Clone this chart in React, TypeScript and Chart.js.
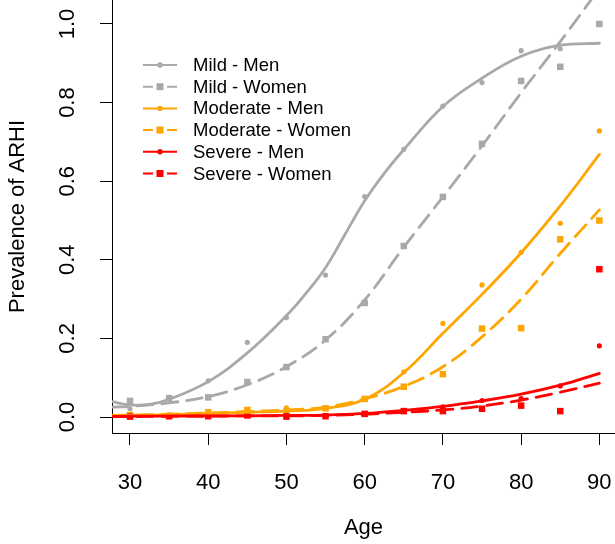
import React, { useEffect, useRef } from "react";
import { Chart, registerables } from "chart.js";

Chart.register(...registerables);

// Observed prevalence by age group
const ages = [30, 35, 40, 45, 50, 55, 60, 65, 70, 75, 80, 85, 90];
const mildMen = [0.021, 0.045, 0.092, 0.19, 0.253, 0.361, 0.561, 0.681, 0.791, 0.851, 0.932, 0.937, null];
const mildWomen = [0.041, 0.048, 0.05, 0.089, 0.127, 0.198, 0.29, 0.435, 0.56, 0.695, 0.855, 0.891, 1.0];
const moderateMen = [0.003, 0.005, 0.008, 0.012, 0.023, 0.022, 0.045, 0.115, 0.238, 0.336, 0.419, 0.493, 0.728];
const moderateWomen = [0.005, 0.003, 0.012, 0.018, 0.015, 0.022, 0.046, 0.077, 0.109, 0.225, 0.226, 0.452, 0.5];
const severeMen = [0.002, 0.001, 0.003, 0.004, 0.003, 0.002, 0.008, 0.016, 0.026, 0.042, 0.047, 0.079, 0.181];
const severeWomen = [0.001, 0.002, 0.002, 0.004, 0.001, 0.002, 0.008, 0.015, 0.015, 0.021, 0.029, 0.015, 0.376];

// Fitted curves
const fitAgesMild = [27.7, 30, 32.5, 35, 40, 45, 50, 52.5, 55, 57.5, 60, 62.5, 65, 70, 75, 80, 85, 90];
const fitMildMen = [0.039, 0.031, 0.032, 0.045, 0.09, 0.163, 0.258, 0.315, 0.38, 0.465, 0.55, 0.62, 0.68, 0.79, 0.862, 0.918, 0.946, 0.951];
const fitAges = [27.7, 30, 35, 40, 45, 50, 55, 60, 65, 70, 75, 80, 85, 90];
const fitMildWomen = [0.025, 0.027, 0.036, 0.052, 0.082, 0.128, 0.196, 0.298, 0.432, 0.56, 0.69, 0.825, 0.955, 1.09];
const fitModerateMen = [0.003, 0.004, 0.006, 0.009, 0.012, 0.015, 0.022, 0.045, 0.113, 0.213, 0.312, 0.418, 0.537, 0.668];
const fitModerateWomen = [0.004, 0.005, 0.007, 0.01, 0.014, 0.018, 0.025, 0.046, 0.078, 0.128, 0.204, 0.3, 0.416, 0.527];
const fitSevereMen = [0.001, 0.002, 0.002, 0.003, 0.003, 0.004, 0.005, 0.009, 0.017, 0.027, 0.041, 0.058, 0.081, 0.111];
const fitSevereWomen = [0.001, 0.001, 0.002, 0.002, 0.003, 0.003, 0.004, 0.007, 0.012, 0.018, 0.028, 0.043, 0.063, 0.086];

const xTicks = [30, 40, 50, 60, 70, 80, 90];
const yTicks = [0, 0.2, 0.4, 0.6, 0.8, 1.0];

const GRAY = "#A9A9A9";
const ORANGE = "#FFA500";
const RED = "#FF0000";
const FONT = "'Liberation Sans', Arial, Helvetica, sans-serif";
const DASH = [16, 9];

type Series = {
  label: string;
  color: string;
  dashed: boolean;
  points: (number | null)[];
  fitX: number[];
  fitY: number[];
};

// Listed top-most first (Chart.js paints the first dataset last)
const series: Series[] = [
  { label: "Severe - Men", color: RED, dashed: false, points: severeMen, fitX: fitAges, fitY: fitSevereMen },
  { label: "Severe - Women", color: RED, dashed: true, points: severeWomen, fitX: fitAges, fitY: fitSevereWomen },
  { label: "Moderate - Men", color: ORANGE, dashed: false, points: moderateMen, fitX: fitAges, fitY: fitModerateMen },
  { label: "Moderate - Women", color: ORANGE, dashed: true, points: moderateWomen, fitX: fitAges, fitY: fitModerateWomen },
  { label: "Mild - Men", color: GRAY, dashed: false, points: mildMen, fitX: fitAgesMild, fitY: fitMildMen },
  { label: "Mild - Women", color: GRAY, dashed: true, points: mildWomen, fitX: fitAges, fitY: fitMildWomen },
];

const legendOrder = ["Mild - Men", "Mild - Women", "Moderate - Men", "Moderate - Women", "Severe - Men", "Severe - Women"];

const legendPlugin = {
  id: "arhiLegend",
  afterDatasetsDraw(chart: any) {
    const ctx = chart.ctx as CanvasRenderingContext2D;
    const x0 = 143;
    const x1 = 177;
    const xm = 160;
    const textX = 193;
    const rowY0 = 65;
    const rowH = 21.7;
    ctx.save();
    legendOrder.forEach((name, i) => {
      const s = series.find((d) => d.label === name)!;
      const y = rowY0 + i * rowH;
      ctx.strokeStyle = s.color;
      ctx.fillStyle = s.color;
      ctx.lineWidth = 2;
      ctx.lineCap = "butt";
      ctx.beginPath();
      if (s.dashed) {
        ctx.moveTo(x0, y);
        ctx.lineTo(x0 + 10, y);
        ctx.moveTo(x1 - 10, y);
        ctx.lineTo(x1, y);
      } else {
        ctx.moveTo(x0, y);
        ctx.lineTo(x1, y);
      }
      ctx.stroke();
      if (s.dashed) {
        ctx.fillRect(xm - 3.5, y - 3.5, 7, 7);
      } else {
        ctx.beginPath();
        ctx.arc(xm, y, 2.7, 0, Math.PI * 2);
        ctx.fill();
      }
      ctx.fillStyle = "#000";
      ctx.font = `18.5px ${FONT}`;
      ctx.textBaseline = "middle";
      ctx.textAlign = "left";
      ctx.fillText(s.label, textX, y + 1);
    });
    ctx.restore();
  },
};

// Keep the plot box fixed: no extra room for overhanging end labels
const zeroPadding = (scale: any) => {
  scale.paddingLeft = 0;
  scale.paddingRight = 0;
  scale.paddingTop = 0;
  scale.paddingBottom = 0;
};

export default function App() {
  const canvasRef = useRef<HTMLCanvasElement | null>(null);

  useEffect(() => {
    const canvas = canvasRef.current;
    if (!canvas) return;

    const datasets: any[] = [];
    series.forEach((s) => {
      datasets.push({
        label: s.label + " fit",
        data: s.fitX.map((x, i) => ({ x, y: s.fitY[i] })),
        showLine: true,
        borderColor: s.color,
        backgroundColor: s.color,
        borderWidth: 2.8,
        borderDash: s.dashed ? DASH : [],
        borderCapStyle: "round",
        tension: 0.4,
        pointRadius: 0,
        pointHoverRadius: 0,
      });
    });
    series.forEach((s) => {
      datasets.push({
        label: s.label,
        data: ages
          .map((x, i) => ({ x, y: s.points[i] }))
          .filter((p) => p.y !== null),
        showLine: false,
        pointStyle: s.dashed ? "rect" : "circle",
        pointRadius: s.dashed ? 4.6 : 2.6,
        pointBorderWidth: 0,
        pointBackgroundColor: s.color,
        pointBorderColor: s.color,
      });
    });

    const chart = new Chart(canvas, {
      type: "scatter",
      data: { datasets },
      options: {
        responsive: false,
        animation: false,
        devicePixelRatio: 1,
        layout: { padding: 0, autoPadding: false },
        events: [],
        plugins: {
          legend: { display: false },
          tooltip: { enabled: false },
        },
        scales: {
          x: {
            type: "linear",
            min: 27.7,
            max: 92.0,
            afterFit: (scale: any) => {
              scale.height = 111;
              zeroPadding(scale);
            },
            afterBuildTicks: (scale: any) => {
              scale.ticks = xTicks.map((v) => ({ value: v }));
            },
            ticks: {
              color: "#000",
              font: { family: FONT, size: 22 },
              padding: 25,
              maxRotation: 0,
              autoSkip: false,
              callback: (v: any) => String(v),
            },
            grid: {
              display: true,
              drawOnChartArea: false,
              drawTicks: true,
              tickLength: 12,
              color: "#000",
              lineWidth: 1,
            },
            border: { display: true, color: "#000", width: 1 },
            title: {
              display: true,
              text: "Age",
              color: "#000",
              font: { family: FONT, size: 22 },
              padding: { top: 0, bottom: 3 },
            },
          },
          y: {
            type: "linear",
            min: -0.0407,
            max: 1.061,
            afterFit: (scale: any) => {
              scale.width = 112;
              zeroPadding(scale);
            },
            afterBuildTicks: (scale: any) => {
              scale.ticks = yTicks.map((v) => ({ value: v }));
            },
            ticks: {
              color: "#000",
              font: { family: FONT, size: 22 },
              padding: 17,
              minRotation: 90,
              maxRotation: 90,
              crossAlign: "center",
              autoSkip: false,
              callback: (v: any) => Number(v).toFixed(1),
            },
            grid: {
              display: true,
              drawOnChartArea: false,
              drawTicks: true,
              tickLength: 12,
              color: "#000",
              lineWidth: 1,
            },
            border: { display: true, color: "#000", width: 1 },
            title: {
              display: true,
              text: "Prevalence of ARHI",
              color: "#000",
              font: { family: FONT, size: 22 },
              padding: { top: 5, bottom: 0 },
            },
          },
        },
      },
      plugins: [legendPlugin],
    });

    return () => chart.destroy();
  }, []);

  return (
    <div style={{ position: "fixed", left: 0, top: 0, width: 615, height: 544, background: "#fff" }}>
      <canvas ref={canvasRef} width={615} height={544} style={{ display: "block", width: 615, height: 544 }} />
    </div>
  );
}
